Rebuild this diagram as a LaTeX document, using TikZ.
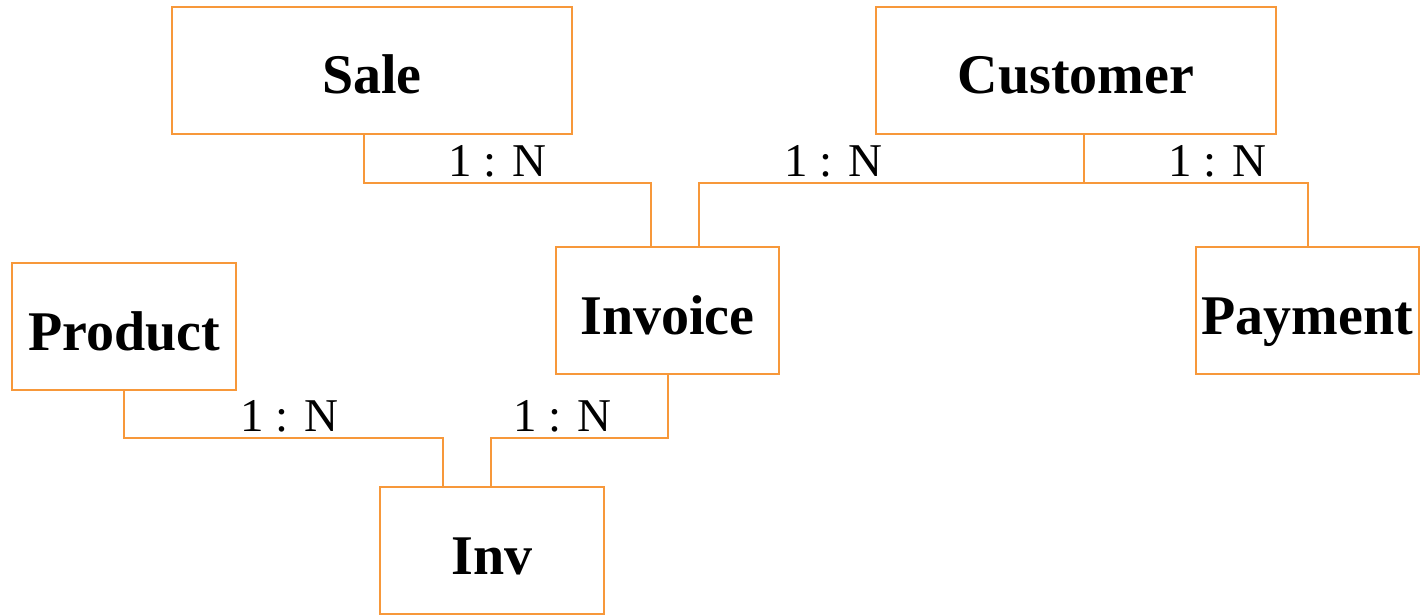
\documentclass[tikz,border=0pt]{standalone}
\usepackage{fontspec}
\setmainfont{Liberation Serif}
\definecolor{edgeorange}{RGB}{247,152,58}
\begin{document}
\begin{tikzpicture}[x=1pt,y=-1pt,
  entity/.style={draw=edgeorange,line width=2pt,inner sep=0pt,outer sep=0pt,
    minimum height=127pt,text height=47pt,text depth=0pt,
    font=\fontsize{56}{60}\selectfont\bfseries},
  link/.style={draw=edgeorange,line width=2pt},
  card/.style={anchor=base,inner sep=0pt,font=\fontsize{47}{52}\selectfont}]
\useasboundingbox (0,0) rectangle (1420,615);
\node[entity,minimum width=400pt] (sale) at (372,70.5) {Sale};
\node[entity,minimum width=400pt] (customer) at (1076,70.5) {Customer};
\node[entity,minimum width=224pt] (product) at (124,326.5) {Product};
\node[entity,minimum width=223pt] (invoice) at (667.5,310.5) {Invoice};
\node[entity,minimum width=223pt] (payment) at (1307.5,310.5) {Payment};
\node[entity,minimum width=224pt] (inv) at (492,550.5) {Inv};
% connectors
\draw[link] ([xshift=-8pt]sale.south) |- ([xshift=-16.5pt,yshift=64pt]invoice.north) -- ([xshift=-16.5pt]invoice.north);
\draw[link] ([xshift=8pt]customer.south) -- ++(0,49) coordinate (cj);
\draw[link] (cj) -| ([xshift=31.5pt]invoice.north);
\draw[link] (cj) -| (payment.north);
\draw[link] (product.south) |- ([xshift=-49pt,yshift=49pt]inv.north) -- ([xshift=-49pt]inv.north);
\draw[link] (invoice.south) |- ([xshift=-1pt,yshift=49pt]inv.north) -- ([xshift=-1pt]inv.north);
% cardinalities
\node[card] (c1) at (497,176) {1 : N};
\node[card] (c2) at (833,176) {1 : N};
\node[card] (c3) at (1217,176) {1 : N};
\node[card] (c4) at (289,431) {1 : N};
\node[card] (c5) at (562,431) {1 : N};
\end{tikzpicture}
\end{document}
